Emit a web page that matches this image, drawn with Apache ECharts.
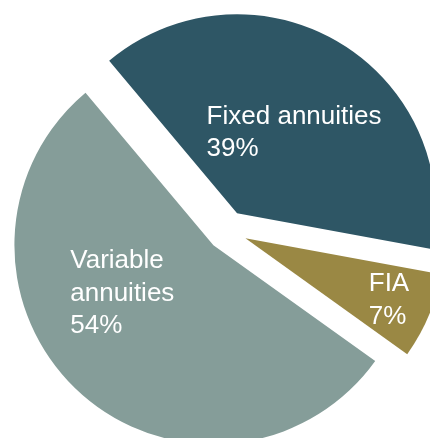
<!DOCTYPE html>
<html>
<head>
<meta charset="utf-8">
<script src="https://cdn.jsdelivr.net/npm/echarts@6/dist/echarts.min.js"></script>
<style>
html,body{margin:0;padding:0;background:#fff;}
#chart{width:430px;height:438px;}
</style>
</head>
<body>
<div id="chart"></div>
<script>
const categories = ['Fixed annuities', 'FIA', 'Variable annuities'];
const labelLines = [['Fixed annuities'], ['FIA'], ['Variable', 'annuities']];
const values = [39, 7, 54];
const colors = ['#2e5665', '#9a8844', '#859d99'];
const labelKeys = ['f', 'i', 'v'];
const labelPadding = [[16, 0, 0, 16], [44, 0, 0, 103], [0, 37, 54, 0]];

const txt = {color: '#ffffff', fontFamily: 'Liberation Sans, Arial, sans-serif', fontSize: 26, lineHeight: 32.5, align: 'left'};

const chart = echarts.init(document.getElementById('chart'), null, {renderer: 'canvas'});
chart.setOption({
  animation: false,
  series: [{
    type: 'pie',
    center: [227, 230.5],
    radius: 199,
    startAngle: 130,
    clockwise: true,
    selectedMode: 'multiple',
    selectedOffset: 20,
    avoidLabelOverlap: false,
    emphasis: {disabled: true},
    labelLine: {show: false},
    label: {
      show: true,
      position: 'inside',
      color: '#ffffff',
      fontFamily: 'Liberation Sans, Arial, sans-serif',
      fontSize: 26,
      lineHeight: 32.5,
      formatter: p => {
        const k = labelKeys[p.dataIndex];
        return labelLines[p.dataIndex].concat([p.value + '%']).map(s => '{' + k + '|' + s + '}').join('\n');
      },
      rich: {
        f: Object.assign({width: 180}, txt),
        i: Object.assign({width: 45}, txt),
        v: Object.assign({width: 110}, txt)
      }
    },
    data: categories.map((c, i) => ({
      name: c,
      value: values[i],
      selected: true,
      itemStyle: {color: colors[i]},
      label: {padding: labelPadding[i]}
    }))
  }]
});
</script>
</body>
</html>
